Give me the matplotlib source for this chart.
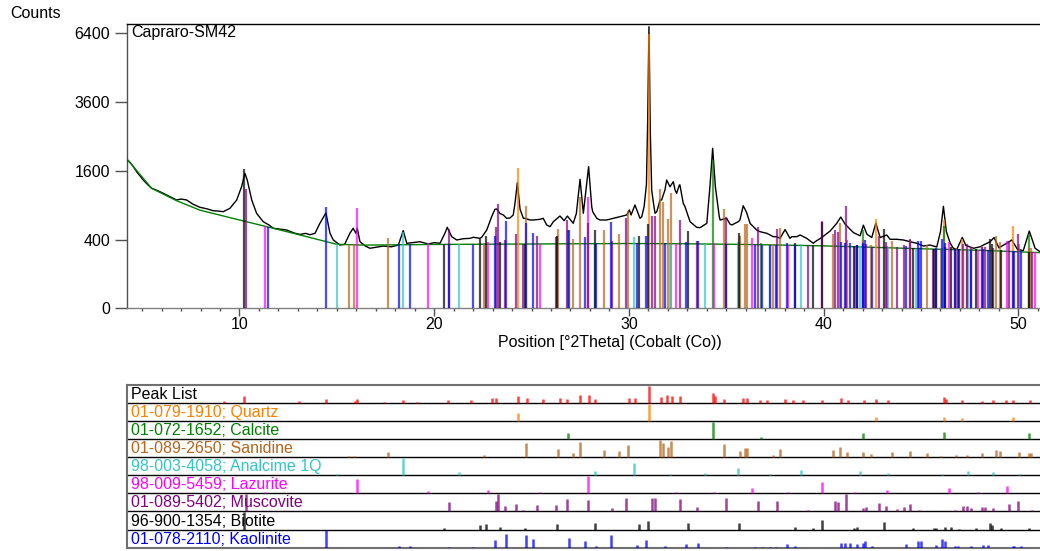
import numpy as np
import matplotlib
matplotlib.use("Agg")
import matplotlib.pyplot as plt
from matplotlib.ticker import MultipleLocator, NullLocator, FixedLocator
from matplotlib.transforms import blended_transform_factory

plt.rcParams['font.family'] = ['Liberation Sans', 'DejaVu Sans']
FS = 11.5
plt.rcParams['font.size'] = FS

# ---------------------------------------------------------------- scan data
scan_2theta = [
    4.21, 4.40, 4.55, 4.75, 4.90, 5.06, 5.25, 5.49, 5.75, 6.09, 6.40, 6.77, 7.00,
    7.29, 7.60, 7.97, 8.30, 8.65, 8.90, 9.17, 9.51, 9.86, 10.11, 10.28, 10.40,
    10.63, 10.88, 11.22, 11.50, 11.74, 12.10, 12.42, 12.80, 13.11, 13.40, 13.62,
    13.88, 14.13, 14.44, 14.65, 14.82, 15.16, 15.40, 15.67, 15.84, 15.98, 16.05,
    16.19, 16.45, 16.70, 17.00, 17.39, 17.80, 18.16, 18.41, 18.59, 18.90, 19.27,
    19.70, 20.00, 20.30, 20.55, 20.67, 20.90, 21.16, 21.50, 21.84, 22.01, 22.35,
    22.44, 22.70, 22.95, 23.12, 23.21, 23.38, 23.55, 23.72, 23.89, 24.06, 24.15,
    24.27, 24.41, 24.58, 24.66, 24.92, 25.09, 25.43, 25.60, 25.78, 25.95, 26.12,
    26.46, 26.67, 26.84, 27.14, 27.30, 27.49, 27.66, 27.93, 28.09, 28.14, 28.35,
    28.51, 28.86, 29.20, 29.54, 29.89, 30.02, 30.11, 30.31, 30.57, 30.66, 30.78,
    30.90, 30.96, 31.03, 31.10, 31.17, 31.25, 31.34, 31.43, 31.60, 31.68, 31.85,
    31.94, 32.11, 32.28, 32.37, 32.45, 32.59, 32.62, 32.79, 32.88, 33.14, 33.48,
    33.65, 34.00, 34.16, 34.30, 34.44, 34.64, 34.68, 35.02, 35.19, 35.28, 35.62,
    35.70, 35.87, 36.04, 36.22, 36.56, 36.73, 37.08, 37.42, 37.59, 37.76, 38.02,
    38.27, 38.36, 38.62, 38.79, 39.13, 39.47, 39.56, 39.90, 40.33, 40.67, 40.88,
    41.10, 41.53, 41.87, 42.04, 42.22, 42.47, 42.68, 42.90, 43.24, 43.41, 43.76,
    44.09, 44.44, 44.78, 45.12, 45.46, 45.81, 46.00, 46.15, 46.30, 46.50, 46.66,
    46.84, 47.12, 47.30, 47.70, 48.03, 48.21, 48.55, 48.75, 49.00, 49.40, 49.66,
    49.95, 50.25, 50.56, 50.77, 50.86, 51.11,
]
scan_counts = [
    1879, 1790, 1697, 1560, 1480, 1393, 1310, 1219, 1180, 1119, 1060, 993, 1010,
    993, 920, 863, 840, 806, 800, 790, 846, 993, 1251, 1542, 1393,
    993, 764, 635, 590, 542, 530, 519, 480, 462, 475, 458,
    476, 611, 770, 476, 395, 339, 345, 476, 542, 476, 542,
    375, 330, 305, 315, 328, 320, 339, 510, 358, 365, 375,
    350, 365, 358, 476, 555, 434, 395, 410, 414, 427, 414,
    427, 519, 710, 829, 835, 760, 737, 685, 690, 737, 933,
    1335, 830, 685, 685, 660, 660, 670, 685, 587, 564, 635,
    721, 650, 720, 611, 760, 1408, 764, 1697, 874, 790, 685,
    660, 660, 685, 710, 737, 818, 737, 903, 685, 710, 874,
    1300, 2900, 6711, 2600, 1184, 962, 764, 790, 993, 993, 1184,
    1393, 1250, 1356, 1184, 1119, 1287, 1287, 933, 874, 635, 555,
    550, 611, 1251, 2166, 1251, 710, 660, 685, 600, 587, 635,
    660, 890, 780, 611, 519, 497, 476, 434, 434, 414, 525,
    414, 434, 434, 455, 414, 358, 375, 424, 505, 610, 705,
    600, 485, 445, 585, 465, 424, 615, 424, 455, 403, 403,
    395, 375, 358, 328, 339, 318, 500, 880, 500, 358, 305,
    295, 425, 335, 305, 320, 340, 375, 424, 310, 358, 395,
    295, 281, 505, 358, 305, 271,
]

bg_2theta = [4.21, 5.49, 6.77, 7.97, 10.0, 11.40, 13.11, 14.99, 16.5, 20.0,
             25.0, 30.0, 33.0, 36.0, 40.0, 45.0, 48.0, 51.11]
bg_counts = [1894, 1219, 980, 815, 660, 564, 455, 347, 338, 345,
             350, 355, 352, 345, 330, 300, 285, 262]

# ---------------------------------------------------------------- peak list
peaklist_pos = [9.19, 10.25, 13.04, 14.46, 15.93, 16.03, 17.44, 18.41, 19.12, 20.69,
                21.89, 22.97, 23.17, 24.29, 24.75, 25.57, 26.45, 26.82, 27.50, 27.94,
                28.26, 29.99, 30.31, 31.05, 31.66, 31.94, 32.23, 32.61, 34.30, 34.41,
                34.87, 35.87, 36.08, 36.72, 37.09, 38.03, 38.41, 38.93, 39.90, 40.88,
                41.24, 42.06, 42.69, 43.31, 46.17, 46.27, 47.12, 48.12, 48.71, 49.38,
                49.71, 50.62]
peaklist_int = [1, 14, 0.7, 4, 1, 5, 0.4, 3, 0.4, 3,
                3, 7, 7, 16, 7, 5, 7, 5, 19, 22,
                6, 8, 8, 100, 11, 19, 16, 16, 30, 16,
                5, 8, 8, 2, 2, 5, 2, 2, 2, 7,
                3, 3, 5, 2, 11, 5, 2, 1, 3, 2,
                2, 3]

# ---------------------------------------------------------------- reference patterns
quartz_pos = [24.29, 31.05, 42.69, 46.17, 47.12, 49.71]
quartz_int = [22, 100, 6, 6, 2, 5]

calcite_pos = [26.86, 34.32, 36.78, 42.03, 46.16, 50.54]
calcite_int = [11, 100, 1.5, 13, 19, 13]

sanidine_pos = [15.64, 15.87, 17.61, 22.54, 24.71, 26.34, 27.13, 27.50, 28.71, 29.49,
                29.97, 31.58, 31.75, 32.02, 32.18, 34.88, 35.69, 35.95, 36.06, 37.39,
                37.78, 40.50, 40.83, 41.19, 42.02, 42.45, 43.53, 44.44, 45.31, 46.01,
                46.81, 47.35, 48.14, 48.84, 49.07, 50.02, 50.56, 50.65]
sanidine_int = [0.4, 0.4, 9, 2, 64, 22, 6, 81, 19, 13,
                53, 100, 71, 38, 90, 58, 11, 30, 30, 1,
                25, 16, 34, 9, 9, 3, 9, 11, 5, 0.2,
                2, 1, 5, 19, 11, 9, 5, 5]

analcime_pos = [15.02, 18.38, 21.27, 28.24, 30.25, 32.13, 33.91, 35.62, 37.25, 38.84,
                41.85, 43.31, 44.73, 46.07, 47.40, 48.71, 50.02]
analcime_int = [0.2, 100, 3, 7, 49, 0.5, 2, 16, 1, 11,
                7, 2, 0.1, 1, 5, 3, 1]

lazurite_pos = [11.33, 16.03, 19.67, 22.76, 25.45, 27.91, 32.40, 34.39, 36.32, 38.16,
                39.90, 41.63, 43.24, 46.43, 47.95, 49.42, 50.87]
lazurite_int = [0.4, 72, 2, 3, 0.3, 100, 0.3, 1, 11, 0.3,
                44, 0.3, 3, 11, 0.5, 16, 0.1]

muscovite_pos = [10.33, 20.74, 23.17, 23.29, 23.62, 24.20, 24.56, 25.29, 26.24, 26.80,
                 27.90, 29.12, 29.85, 31.19, 31.32, 32.62, 33.50, 35.00, 36.63, 37.59,
                 39.21, 40.57, 40.75, 41.15, 42.01, 42.19, 42.85, 43.22, 43.78, 44.13,
                 44.42, 44.91, 45.62, 46.75, 47.16, 47.36, 47.57, 48.12, 48.29, 48.70,
                 49.51, 49.97, 50.70]
muscovite_int = [100, 32, 38, 100, 9, 20, 1, 16, 13, 53,
                 46, 5, 58, 64, 64, 53, 6, 64, 38, 34,
                 1, 34, 30, 100, 3, 6, 22, 11, 2, 6,
                 19, 0.5, 0.1, 0.5, 11, 11, 5, 6, 6, 5,
                 19, 34, 1]

biotite_pos = [10.25, 20.52, 22.37, 22.64, 23.39, 24.68, 26.31, 28.24, 30.53, 30.97,
               33.05, 35.65, 38.53, 39.44, 39.90, 41.55, 41.70, 43.09, 44.59, 45.69,
               45.79, 46.23, 46.54, 46.94, 47.83, 48.53, 48.63, 49.11, 50.53]
biotite_int = [100, 0.5, 6, 9, 2, 0.5, 9, 16, 9, 25,
               16, 13, 3, 1, 30, 1, 2, 22, 0.5, 0.5,
               0.5, 2, 3, 0.3, 1, 13, 7, 1, 0.5]

kaolinite_pos = [11.48, 14.44, 18.18, 18.77, 20.74, 21.97, 23.11, 23.70, 24.71, 25.06,
                 26.91, 27.76, 28.31, 29.07, 30.42, 30.86, 31.84, 32.93, 33.56, 34.99,
                 36.48, 36.82, 37.23, 37.55, 38.10, 38.55, 40.88, 41.08, 41.34, 41.72,
                 42.02, 42.14, 42.50, 44.22, 44.83, 45.02, 45.76, 46.08, 46.25, 46.75,
                 46.89, 47.57, 48.19, 48.44, 49.73, 49.79, 50.14]
kaolinite_int = [0.3, 100, 1, 0.5, 0.1, 0.1, 19, 61, 53, 27,
                 34, 16, 0.5, 55, 2, 19, 0.5, 5, 7, 0.2,
                 0.2, 0.2, 0.2, 0.2, 5, 0.5, 9, 7, 9, 5,
                 9, 16, 1, 5, 16, 16, 2, 23, 13, 1,
                 1, 0.5, 2, 2, 1, 1, 1]

phase_labels = ["01-079-1910; Quartz", "01-072-1652; Calcite", "01-089-2650; Sanidine",
                "98-003-4058; Analcime 1Q", "98-009-5459; Lazurite",
                "01-089-5402; Muscovite", "96-900-1354; Biotite", "01-078-2110; Kaolinite"]
phase_colors = ["#FF8000", "#008000", "#B5651D", "#33C6C6", "#FF00FF",
                "#800080", "#000000", "#0000FF"]
# counts corresponding to 100 % intensity of each reference pattern in the scan
phase_scale = [6000, 1500, 850, 145, 700, 570, 1000, 490]
phase_pos = [quartz_pos, calcite_pos, sanidine_pos, analcime_pos, lazurite_pos,
             muscovite_pos, biotite_pos, kaolinite_pos]
phase_int = [quartz_int, calcite_int, sanidine_int, analcime_int, lazurite_int,
             muscovite_int, biotite_int, kaolinite_int]

# ---------------------------------------------------------------- figure
W, H = 1040, 551
fig = plt.figure(figsize=(W / 100, H / 100), dpi=100)

x_min, x_max = 4.21, 51.11
ax_l, ax_r = 126.7 / W, 1.0


def fy(py):
    return 1 - py / H


ax = fig.add_axes([ax_l, fy(308.3), ax_r - ax_l, fy(24.3) - fy(308.3)])
ax.set_yscale('function', functions=(lambda v: np.sqrt(np.clip(v, 0, None)),
                                     lambda v: np.square(v)))
ax.set_xlim(x_min, x_max)
ax.set_ylim(0, 6826)

# observed scan and background
ax.plot(scan_2theta, scan_counts, color='black', lw=1.0, zorder=3)
ax.plot(bg_2theta, bg_counts, color='#008000', lw=1.0, zorder=4)

# reference sticks, raised onto the background
for pos, inten, col, sc in zip(phase_pos, phase_int, phase_colors, phase_scale):
    pos = np.asarray(pos)
    tops = np.interp(pos, bg_2theta, bg_counts) + sc * np.asarray(inten) / 100.0
    ax.vlines(pos, 0, tops, color=col, lw=1.6, alpha=0.7, zorder=5)

ax.set_yticks([0, 400, 1600, 3600, 6400])
ax.set_yticklabels(["0", "400", "1600", "3600", "6400"])
ax.yaxis.set_minor_locator(NullLocator())
ax.xaxis.set_major_locator(FixedLocator([10, 20, 30, 40, 50]))
ax.xaxis.set_minor_locator(MultipleLocator(1))
ax.tick_params(axis='y', which='major', direction='out', length=8.4, width=1,
               color='#505050', pad=3.5, labelsize=FS)
ax.tick_params(axis='x', which='major', direction='out', length=5.5, width=1,
               color='#505050', pad=1.0, labelsize=FS)
ax.tick_params(axis='x', which='minor', direction='out', length=2.4, width=1,
               color='#505050')
ax.spines['right'].set_visible(False)
ax.spines['top'].set_color('black')
ax.spines['left'].set_color('#505050')
ax.spines['bottom'].set_color('#808080')
for s in ax.spines.values():
    s.set_linewidth(1.0)

ax.text(0.005, 0.972, "Capraro-SM42", transform=ax.transAxes, ha='left', va='center',
        fontsize=FS)
fig.text(10 / W, fy(14), "Counts", ha='left', va='center', fontsize=FS)
fig.text(610 / W, fy(342), "Position [°2Theta] (Cobalt (Co))", ha='center',
         va='center', fontsize=FS)

# ---------------------------------------------------------------- stick panel
ax2 = fig.add_axes([ax_l, fy(547.7), ax_r - ax_l, fy(384.7) - fy(547.7)])
ax2.set_xlim(x_min, x_max)
n_rows = 9
ax2.set_ylim(0, n_rows)
ax2.set_xticks([])
ax2.set_yticks([])
for s in ax2.spines.values():
    s.set_color('#707070')
    s.set_linewidth(1.5)
ax2.spines['right'].set_visible(False)

row_labels = ["Peak List"] + phase_labels
row_colors = ["#000000"] + phase_colors
row_pos = [peaklist_pos] + phase_pos
row_int = [peaklist_int] + phase_int
row_stick_colors = ["#FF0000"] + phase_colors

tr = blended_transform_factory(ax2.transAxes, ax2.transData)
for i in range(n_rows):
    base = n_rows - 1 - i
    if i > 0:
        ax2.axhline(base + 1, color='black', lw=1.0, zorder=2)
    h = np.sqrt(np.asarray(row_int[i]) / 100.0) * 0.95
    ax2.vlines(row_pos[i], base, base + h, color=row_stick_colors[i], lw=1.8,
               alpha=0.75, zorder=3)
    ax2.text(0.0045, base + 0.47, row_labels[i], transform=tr, ha='left', va='center',
             color=row_colors[i], fontsize=FS, zorder=1)

fig.savefig("out.png", dpi=100)
